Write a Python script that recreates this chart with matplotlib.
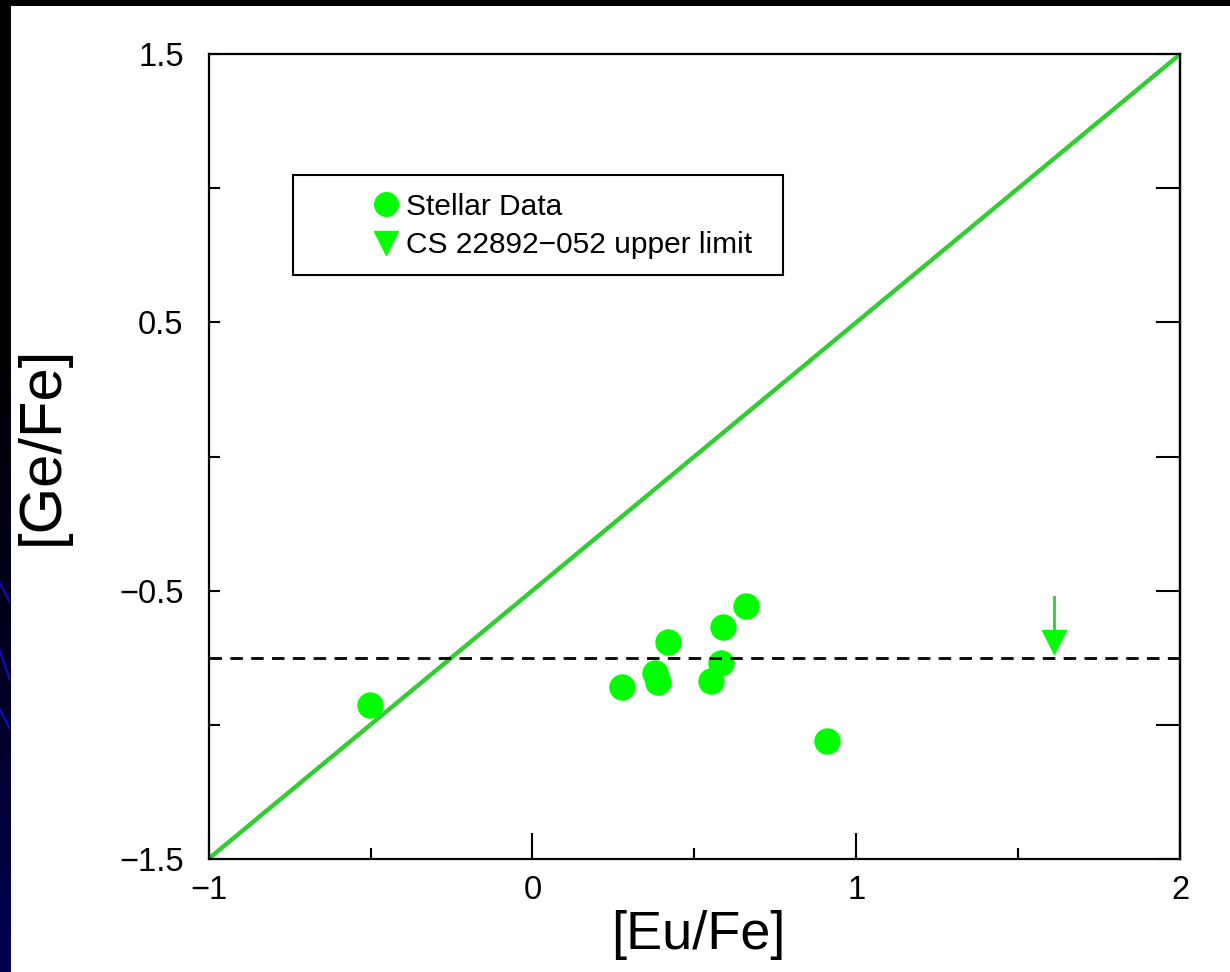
import matplotlib
matplotlib.use("Agg")
import matplotlib.pyplot as plt
import numpy as np
from matplotlib.patches import Rectangle
from matplotlib.lines import Line2D
from matplotlib.colors import LinearSegmentedColormap

plt.rcParams['font.family'] = ['Liberation Sans', 'DejaVu Sans']

# ---- data ----
eu_fe = [-0.502, 0.277, 0.419, 0.378, 0.389, 0.661, 0.589, 0.581, 0.550, 0.910]
ge_fe = [-0.927, -0.858, -0.690, -0.808, -0.840, -0.557, -0.637, -0.771, -0.836, -1.060]
limit_eu = [1.611]
limit_ge = [-0.69]
limit_arrow_top = [-0.524]
diag_x = [-1.0, 2.0]
diag_y = [-1.5, 1.5]
dashed_level = -0.75
xticks_major = [-1, 0, 1, 2]
xtick_labels = ['−1', '0', '1', '2']
xticks_minor = [-0.5, 0.5, 1.5]
yticks_major = [-1.5, -0.5, 0.5, 1.5]
ytick_labels = ['−1.5', '−0.5', '0.5', '1.5']
yticks_minor = [-1.0, 0.0, 1.0]
legend_labels = ['Stellar Data', 'CS 22892−052 upper limit']

W, H = 1230, 972
fig = plt.figure(figsize=(W / 100, H / 100), dpi=100, facecolor='black')

# left slide strip with gradient
sax = fig.add_axes([0, 0, 10 / W, 1])
grad = np.linspace(0, 1, 256).reshape(-1, 1)
cm = LinearSegmentedColormap.from_list('g', [(0, 0, 0.32), (0, 0, 0.12), (0, 0, 0), (0, 0, 0)])
sax.imshow(grad, aspect='auto', cmap=cm, extent=[0, 1, 0, 1], origin='lower')
for y0, y1 in [(0.40, 0.38), (0.33, 0.30), (0.27, 0.25)]:
    sax.plot([0, 1], [y0, y1], color='#1010c0', lw=1.5)
sax.set_xlim(0, 1)
sax.set_ylim(0, 1)
sax.axis('off')

# white panel
fig.patches.append(Rectangle((10 / W, 0), 1 - 10 / W, 1 - 6 / H, transform=fig.transFigure,
                             facecolor='white', edgecolor='none', zorder=-1))

left, right = 208.7 / W, 1180 / W
bottom, top = 1 - 858.7 / H, 1 - 54.3 / H
ax = fig.add_axes([left, bottom, right - left, top - bottom])
ax.set_facecolor('white')
ax.set_xlim(-1, 2)
ax.set_ylim(-1.5, 1.5)

ax.plot(diag_x, diag_y, color='#33cc33', lw=3.2, zorder=2, solid_capstyle='butt')
ax.plot(eu_fe, ge_fe, 'o', color='#00ff00', ms=18, mec='#00ff00', zorder=3)
ax.plot([limit_eu[0], limit_eu[0]], [limit_arrow_top[0], limit_ge[0]], color='#33cc33', lw=2, zorder=3)
ax.plot(limit_eu, limit_ge, 'v', color='#00ff00', ms=17, mec='#00ff00', zorder=3)
ax.plot([-1, 2], [dashed_level, dashed_level], color='black', lw=2, dashes=(4.5, 3), zorder=4)

for s in ax.spines.values():
    s.set_linewidth(1.6)
    s.set_color('black')

ax.set_xticks(xticks_major)
ax.set_xticklabels(xtick_labels)
ax.set_xticks(xticks_minor, minor=True)
ax.set_yticks(yticks_major)
ax.set_yticklabels(ytick_labels)
ax.set_yticks(yticks_minor, minor=True)
ax.tick_params(axis='x', which='major', direction='in', length=18.5, width=1.5, labelsize=23.5, pad=12,
               top=False, bottom=True)
ax.tick_params(axis='x', which='minor', direction='in', length=8, width=1.5, top=False)
ax.tick_params(axis='y', which='both', direction='in', length=8, width=1.5, labelsize=23.5, pad=18,
               right=False)

sec = ax.secondary_yaxis('right')
sec.set_yticks(yticks_major + yticks_minor)
sec.tick_params(direction='in', length=17, width=1.5, labelright=False)
sec.spines['right'].set_linewidth(1.6)

# legend
ax.add_patch(Rectangle((0.0868, 0.7256), 0.591 - 0.0868, 0.850 - 0.7256, transform=ax.transAxes,
                       facecolor='white', edgecolor='black', lw=1.5, zorder=5))
handles = [Line2D([], [], ls='none', marker='o', ms=17, color='#00ff00'),
           Line2D([], [], ls='none', marker='v', ms=17, color='#00ff00')]
leg = ax.legend(handles, legend_labels, loc='center left', bbox_to_anchor=(0.168, 0.7865),
                frameon=False, fontsize=21.5, handlelength=0.95, handletextpad=0.18,
                borderpad=0, borderaxespad=0, labelspacing=0.35)
leg.set_zorder(6)

fig.text(698 / W, 1 - 935 / H, '[Eu/Fe]', ha='center', va='center', fontsize=39)
fig.text(42 / W, 1 - 445 / H, '[Ge/Fe]', ha='center', va='center', fontsize=43, rotation=90)

fig.savefig('out.png', dpi=100, facecolor=fig.get_facecolor())
